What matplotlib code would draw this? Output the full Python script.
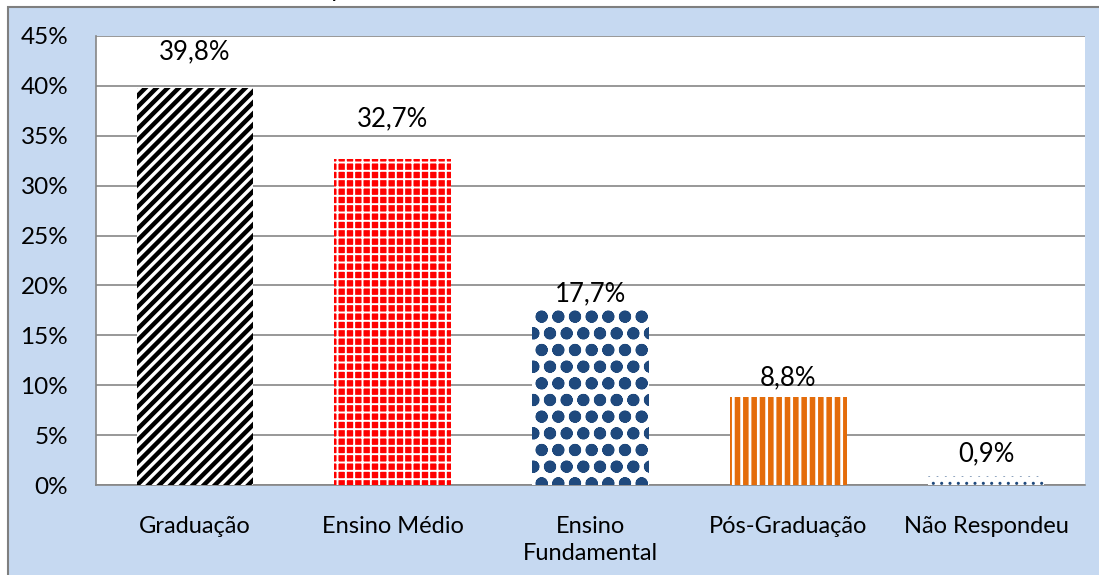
import matplotlib.pyplot as plt
import matplotlib as mpl
from matplotlib.patches import Rectangle

categorias = ['Graduação', 'Ensino Médio', 'Ensino\nFundamental', 'Pós-Graduação', 'Não Respondeu']
valores = [39.8, 32.7, 17.7, 8.8, 0.9]
rotulos = ['39,8%', '32,7%', '17,7%', '8,8%', '0,9%']
yticks = [0, 5, 10, 15, 20, 25, 30, 35, 40, 45]

# estilo de cada barra: (cor de fundo, cor da hachura, hachura, espessura)
estilos = [
    ('white', 'black', '///', 3.2),
    ('red', 'white', '++', 1.4),
    ('white', '#1F497D', 'o', 4.0),
    ('white', '#E46C0A', '||', 4.0),
    ('white', '#1F497D', '..', 1.0),
]
desloc = [3.6, 4.0, 1.5, 1.9, 2.2]

plt.rcParams['font.family'] = ['Lato', 'DejaVu Sans']

fig = plt.figure(figsize=(10.99, 5.75), dpi=100)
fig.patch.set_facecolor('white')
fig.patches.append(Rectangle((8 / 1099, -0.1), 1.2, 1.1 - 7 / 575, transform=fig.transFigure,
                             facecolor='#C6D9F1', edgecolor='#7F7F7F', linewidth=1.5, zorder=-1))
fig.text(0.004, 1 + 3 / 575, 'Gráfico 1 - Escolaridade dos respondentes', fontsize=17,
         va='baseline', ha='left', color='black')

ax = fig.add_axes([96 / 1099, 1 - 485 / 575, (1085 - 96) / 1099, (485 - 36) / 575])
ax.set_facecolor('white')

x = list(range(len(categorias)))
for i in x:
    fundo, cor, hach, lw = estilos[i]
    with mpl.rc_context({'hatch.linewidth': lw}):
        ax.bar(i, valores[i], width=0.59, color=fundo, edgecolor=cor, hatch=hach,
               linewidth=0, zorder=3)
    ax.text(i, valores[i] + desloc[i], rotulos[i], ha='center', va='center', fontsize=18.5, zorder=4)

ax.set_xlim(-0.5, len(categorias) - 0.5)
ax.set_ylim(0, 45)
ax.set_yticks(yticks)
ax.set_yticklabels([f'{v}%' for v in yticks], fontsize=17.5)
ax.set_xticks(x)
ax.set_xticklabels(categorias, fontsize=17, linespacing=1.35, va='top')
ax.tick_params(axis='y', length=0, pad=20)
ax.tick_params(axis='x', length=0, pad=22)
ax.yaxis.grid(True, color='#868686', linewidth=1.2, zorder=0)
ax.set_axisbelow(True)
for s in ['top', 'right']:
    ax.spines[s].set_visible(False)
ax.spines['left'].set_color('#868686')
ax.spines['bottom'].set_color('#868686')
ax.spines['left'].set_linewidth(1.2)
ax.spines['bottom'].set_linewidth(1.2)

fig.savefig('out.png', dpi=100)
